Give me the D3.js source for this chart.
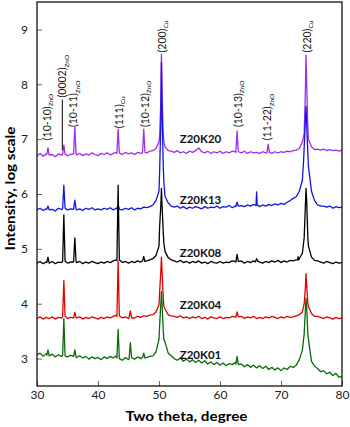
<!DOCTYPE html>
<html>
<head>
<meta charset="utf-8">
<script src="https://cdn.jsdelivr.net/npm/d3@7"></script>
<style>
  body { margin: 0; background: #fff; }
  text { font-family: Lato, "Open Sans", sans-serif; }
</style>
</head>
<body>
<div id="Area1"></div>
<script>
// two theta sampling of the background (every 0.5 degree, 30..80)
var twoTheta = d3.range(30, 80.001, 0.5);
var yTicks = [3, 4, 5, 6, 7, 8, 9];
var xTicks = [30, 40, 50, 60, 70, 80];
var sampleNames = ["Z20K20", "Z20K13", "Z20K08", "Z20K04", "Z20K01"];

// background, log intensity
var k20Base = [6.70, 6.74, 6.69, 6.73, 6.70, 6.72, 6.68, 6.73, 6.71, 6.74,
  6.70, 6.72, 6.73, 6.71, 6.74, 6.70, 6.73, 6.71, 6.75, 6.72,
  6.70, 6.74, 6.72, 6.75, 6.71, 6.74, 6.76, 6.73, 6.72, 6.76,
  6.73, 6.75, 6.72, 6.76, 6.74, 6.76, 6.75, 6.78, 6.79, 6.83,
  6.95, 7.10, 6.86, 6.79, 6.78, 6.76, 6.79, 6.75, 6.77, 6.74,
  6.78, 6.76, 6.79, 6.84, 6.77, 6.75, 6.78, 6.74, 6.77, 6.75,
  6.78, 6.74, 6.77, 6.75, 6.78, 6.77, 6.76, 6.75, 6.78, 6.74,
  6.77, 6.75, 6.76, 6.74, 6.77, 6.75, 6.78, 6.74, 6.77, 6.75,
  6.77, 6.76, 6.78, 6.77, 6.79, 6.80, 6.83, 6.95, 7.20, 7.00,
  6.86, 6.81, 6.82, 6.80, 6.82, 6.79, 6.81, 6.79, 6.80, 6.78,
  6.80];
var k13Base = [5.71, 5.74, 5.70, 5.73, 5.71, 5.72, 5.69, 5.74, 5.72, 5.75,
  5.71, 5.73, 5.74, 5.71, 5.73, 5.70, 5.74, 5.72, 5.75, 5.71,
  5.73, 5.71, 5.74, 5.72, 5.75, 5.71, 5.74, 5.73, 5.71, 5.74,
  5.72, 5.75, 5.71, 5.74, 5.73, 5.76, 5.75, 5.77, 5.80, 5.88,
  6.05, 6.40, 5.95, 5.84, 5.78, 5.76, 5.78, 5.74, 5.77, 5.73,
  5.76, 5.74, 5.77, 5.75, 5.73, 5.77, 5.74, 5.76, 5.75, 5.78,
  5.74, 5.77, 5.76, 5.79, 5.75, 5.78, 5.76, 5.79, 5.77, 5.80,
  5.78, 5.81, 5.79, 5.77, 5.80, 5.78, 5.81, 5.79, 5.82, 5.80,
  5.83, 5.81, 5.85, 5.88, 5.92, 5.95, 6.05, 6.25, 6.60, 6.40,
  6.05, 5.88, 5.80, 5.78, 5.78, 5.76, 5.78, 5.74, 5.77, 5.75,
  5.76];
var k08Base = [4.74, 4.77, 4.73, 4.76, 4.74, 4.77, 4.73, 4.76, 4.75, 4.78,
  4.74, 4.76, 4.78, 4.75, 4.77, 4.73, 4.76, 4.74, 4.77, 4.75,
  4.73, 4.76, 4.74, 4.77, 4.75, 4.78, 4.80, 4.76, 4.75, 4.77,
  4.74, 4.77, 4.75, 4.78, 4.76, 4.79, 4.78, 4.80, 4.82, 4.88,
  5.05, 5.40, 4.95, 4.84, 4.80, 4.78, 4.76, 4.79, 4.75, 4.77,
  4.74, 4.77, 4.75, 4.78, 4.74, 4.76, 4.73, 4.77, 4.75, 4.74,
  4.77, 4.74, 4.76, 4.75, 4.78, 4.77, 4.75, 4.78, 4.74, 4.77,
  4.75, 4.78, 4.80, 4.76, 4.74, 4.77, 4.75, 4.78, 4.76, 4.79,
  4.75, 4.78, 4.76, 4.79, 4.78, 4.80, 4.82, 4.92, 5.00, 5.05,
  4.85, 4.79, 4.78, 4.76, 4.74, 4.77, 4.75, 4.73, 4.76, 4.74,
  4.75];
var k04Base = [3.73, 3.76, 3.72, 3.75, 3.73, 3.76, 3.72, 3.75, 3.74, 3.77,
  3.73, 3.75, 3.77, 3.74, 3.76, 3.72, 3.75, 3.73, 3.76, 3.74,
  3.72, 3.75, 3.73, 3.76, 3.74, 3.77, 3.79, 3.75, 3.74, 3.76,
  3.73, 3.76, 3.74, 3.77, 3.75, 3.78, 3.77, 3.79, 3.80, 3.85,
  3.98, 4.30, 3.90, 3.80, 3.78, 3.77, 3.75, 3.78, 3.74, 3.76,
  3.73, 3.76, 3.74, 3.77, 3.73, 3.75, 3.72, 3.76, 3.74, 3.73,
  3.76, 3.73, 3.75, 3.74, 3.77, 3.76, 3.74, 3.77, 3.73, 3.76,
  3.74, 3.77, 3.73, 3.75, 3.73, 3.76, 3.74, 3.77, 3.75, 3.73,
  3.76, 3.74, 3.77, 3.75, 3.76, 3.78, 3.80, 3.85, 4.00, 3.95,
  3.82, 3.77, 3.77, 3.75, 3.73, 3.76, 3.74, 3.72, 3.75, 3.73,
  3.74];
var k01Base = [3.07, 3.10, 3.04, 3.09, 3.05, 3.08, 3.03, 3.07, 3.04, 3.08,
  3.03, 3.06, 3.09, 3.02, 3.05, 3.01, 3.04, 2.99, 3.03, 3.00,
  3.02, 2.98, 3.03, 3.00, 3.04, 3.01, 3.05, 3.00, 2.97, 3.02,
  2.98, 3.02, 2.99, 3.03, 3.00, 3.04, 3.02, 3.04, 3.05, 3.12,
  3.35, 3.80, 3.30, 3.10, 3.05, 3.00, 2.97, 3.01, 2.95, 2.99,
  2.94, 2.98, 2.93, 2.97, 2.92, 2.96, 2.90, 2.94, 2.89, 2.93,
  2.88, 2.92, 2.87, 2.91, 2.89, 2.93, 2.86, 2.90, 2.85, 2.89,
  2.84, 2.88, 2.83, 2.87, 2.82, 2.86, 2.80, 2.84, 2.79, 2.83,
  2.78, 2.83, 2.80, 2.86, 2.84, 2.88, 2.98, 3.15, 3.30, 3.35,
  2.95, 2.86, 2.82, 2.76, 2.78, 2.72, 2.75, 2.69, 2.73, 2.66,
  2.67];

// peaks: [two theta, log intensity] points
var k20Peaks = [
  [[31.6,6.72],[31.8,6.84],[32.0,6.71]],
  [[34.2,6.72],[34.4,6.89],[34.6,6.73]],
  [[36.0,6.73],[36.2,7.22],[36.4,6.74]],
  [[43.1,6.74],[43.3,7.18],[43.5,6.75]],
  [[47.3,6.75],[47.5,7.18],[47.7,6.76]],
  [[50.1,7.05],[50.3,7.7],[50.4,8.55],[50.5,7.8],[50.7,7.1],[50.8,6.95]],
  [[62.6,6.76],[62.8,7.15],[63.0,6.77]],
  [[67.7,6.75],[67.9,6.91],[68.1,6.76]],
  [[73.8,7.1],[74.0,7.9],[74.1,8.53],[74.2,8.1],[74.35,7.4],[74.45,7.1]]
];
var k13Peaks = [
  [[31.6,5.72],[31.8,5.78],[32.0,5.71]],
  [[34.2,5.73],[34.4,6.16],[34.6,5.74]],
  [[36.0,5.72],[36.2,5.89],[36.4,5.73]],
  [[43.1,5.73],[43.3,5.80],[43.5,5.72]],
  [[50.1,6.4],[50.3,7.3],[50.4,8.4],[50.5,7.5],[50.7,6.5],[50.8,6.2]],
  [[62.6,5.77],[62.8,5.85],[63.0,5.78]],
  [[65.9,5.79],[66.0,6.04],[66.1,5.80]],
  [[73.7,6.6],[73.9,7.1],[74.1,7.6],[74.3,7.0],[74.5,6.5]]
];
var k08Peaks = [
  [[31.6,4.75],[31.8,4.85],[32.0,4.74]],
  [[34.2,4.77],[34.4,5.62],[34.6,4.78]],
  [[36.0,4.76],[36.2,5.20],[36.4,4.77]],
  [[43.1,4.79],[43.3,6.16],[43.5,4.80]],
  [[47.3,4.78],[47.5,4.86],[47.7,4.77]],
  [[50.1,5.4],[50.3,5.8],[50.4,6.1],[50.5,5.8],[50.7,5.3],[50.8,5.1]],
  [[62.6,4.76],[62.8,4.90],[63.0,4.77]],
  [[65.8,4.76],[66.0,4.82],[66.2,4.77]],
  [[72.7,4.80],[72.8,4.86],[72.9,4.80]],
  [[73.8,5.2],[74.0,5.8],[74.1,6.1],[74.2,5.9],[74.4,5.2]]
];
var k04Peaks = [
  [[34.2,3.76],[34.4,4.42],[34.6,3.77]],
  [[36.0,3.74],[36.2,3.84],[36.4,3.75]],
  [[43.1,3.77],[43.3,4.78],[43.5,3.78]],
  [[45.1,3.75],[45.3,3.87],[45.5,3.74]],
  [[50.1,4.2],[50.3,4.6],[50.4,4.85],[50.5,4.6],[50.7,4.1],[50.8,3.95]],
  [[62.6,3.75],[62.8,3.85],[63.0,3.76]],
  [[73.8,4.0],[74.0,4.3],[74.1,4.55],[74.2,4.35],[74.4,4.0]]
];
var k01Peaks = [
  [[31.6,3.06],[31.8,3.16],[32.0,3.05]],
  [[34.2,3.06],[34.4,3.73],[34.6,3.05]],
  [[36.0,3.04],[36.2,3.16],[36.4,3.03]],
  [[43.1,3.01],[43.3,3.53],[43.5,3.00]],
  [[45.1,3.00],[45.3,3.29],[45.5,3.02]],
  [[47.3,3.02],[47.5,3.10],[47.7,3.01]],
  [[50.1,3.6],[50.3,4.0],[50.4,4.22],[50.5,4.0],[50.7,3.5],[50.8,3.35]],
  [[62.6,2.90],[62.8,3.04],[63.0,2.89]],
  [[73.8,3.45],[74.0,3.9],[74.1,4.1],[74.2,3.95],[74.4,3.45]]
];

// reflection labels: text, phase, two theta, log level of label foot
var peakLabels = [
  ["(10-10)", "ZnO", 31.7, 6.98],
  ["(0002)", "ZnO", 34.2, 7.76],
  ["(10-11)", "ZnO", 36.0, 7.22],
  ["(111)", "Cu", 43.5, 7.20],
  ["(10-12)", "ZnO", 47.7, 7.22],
  ["(200)", "Cu", 50.5, 8.58],
  ["(10-13)", "ZnO", 63.0, 7.22],
  ["(11-22)", "ZnO", 67.8, 6.98],
  ["(220)", "Cu", 74.3, 8.58]
];
// label level of each sample name, log units
var nameLevels = [7.0, 5.9, 4.93, 3.97, 3.06];

var seriesBase = [k20Base, k13Base, k08Base, k04Base, k01Base];
var seriesPeaks = [k20Peaks, k13Peaks, k08Peaks, k04Peaks, k01Peaks];
var colors = ["#9f2ee8", "#1414e0", "#000000", "#e00000", "#0b6b0b"];

function mergePoints(base, peaks) {
  var pts = [];
  twoTheta.forEach(function(t, i) {
    var inside = peaks.some(function(p) { return t >= p[0][0] && t <= p[p.length-1][0]; });
    if (!inside) pts.push([t, base[i]]);
  });
  peaks.forEach(function(p) { p.forEach(function(q) { pts.push(q); }); });
  pts.sort(function(a, b) { return a[0] - b[0]; });
  return pts;
}

var margin = {top: 2, right: 8, bottom: 41, left: 37},
    width = 350 - margin.left - margin.right,
    height = 427 - margin.top - margin.bottom;

var svg = d3.select("#Area1")
    .append("svg")
    .attr("width", 350)
    .attr("height", 427)
  .append("g")
    .attr("transform", "translate(" + margin.left + "," + margin.top + ")");

var xscl = d3.scaleLinear().domain([30, 80]).range([0, width]);
var yscl = d3.scaleLinear().domain([2.5, 9.5]).range([height, 0]);

var myline = d3.line()
    .x(function(d) { return xscl(d[0]); })
    .y(function(d) { return yscl(d[1]); });

// draw top sample first so the lower ones lie over it
for (var s = 0; s < seriesBase.length; s++) {
  svg.append("path")
      .attr("d", myline(mergePoints(seriesBase[s], seriesPeaks[s])))
      .style("fill", "none")
      .style("stroke", colors[s])
      .style("stroke-width", 1.3)
      .style("stroke-linejoin", "round");
}

// axes
var yAxis = svg.append("g")
    .call(d3.axisLeft(yscl).tickValues(yTicks).tickSize(-5).tickPadding(9).tickFormat(d3.format("d")));
var xAxis = svg.append("g")
    .attr("transform", "translate(0," + height + ")")
    .call(d3.axisBottom(xscl).tickValues(xTicks).tickSize(-5).tickPadding(4).tickFormat(d3.format("d")));
svg.selectAll(".domain").remove();
svg.selectAll(".tick line").attr("stroke", "#666");
svg.selectAll(".tick text").attr("fill", "#222").style("font-size", "12px").style("font-family", "Lato, sans-serif");

svg.append("rect")
    .attr("x", 0).attr("y", 0)
    .attr("width", width).attr("height", height)
    .style("fill", "none")
    .style("stroke", "#111")
    .style("stroke-width", 1.3);

// peak labels
peakLabels.forEach(function(l) {
  var px = xscl(l[2]), py = yscl(l[3]);
  var t = svg.append("text")
      .attr("transform", "translate(" + px + "," + py + ") rotate(-90)")
      .attr("dy", "0.35em")
      .style("font-size", "10.5px")
      .attr("fill", "#111");
  t.append("tspan").text(l[0]);
  t.append("tspan").attr("dy", "0.35em").style("font-size", "6.5px").text(l[1]);
});

// leader line under (0002)
svg.append("line")
    .attr("x1", xscl(34.15)).attr("x2", xscl(34.15))
    .attr("y1", yscl(7.72)).attr("y2", yscl(6.8))
    .attr("stroke", "#000").attr("stroke-width", 1);

// sample names
sampleNames.forEach(function(n, i) {
  svg.append("text")
      .attr("x", xscl(53.4))
      .attr("y", yscl(nameLevels[i]))
      .attr("dy", "0.35em")
      .style("font-size", "11.5px")
      .style("font-weight", "bold")
      .attr("fill", "#111")
      .text(n);
});

// axis titles
svg.append("text")
    .attr("transform", "translate(" + (-27) + "," + (yscl(6.1)) + ") rotate(-90)")
    .attr("text-anchor", "middle")
    .attr("dy", "0.35em")
    .style("font-size", "14px")
    .style("font-weight", "bold")
    .attr("textLength", 124)
    .attr("lengthAdjust", "spacingAndGlyphs")
    .text("Intensity, log scale");

svg.append("text")
    .attr("x", xscl(54.5))
    .attr("y", height + 30)
    .attr("text-anchor", "middle")
    .attr("dy", "0.35em")
    .style("font-size", "14px")
    .style("font-weight", "bold")
    .attr("textLength", 122)
    .attr("lengthAdjust", "spacingAndGlyphs")
    .text("Two theta, degree");
</script>
</body>
</html>
